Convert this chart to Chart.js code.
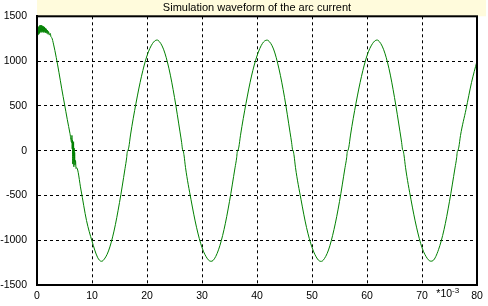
<!DOCTYPE html>
<html>
<head>
<meta charset="utf-8">
<script src="https://cdn.jsdelivr.net/npm/chart.js@4.4.0/dist/chart.umd.min.js"></script>
<style>
  html, body { margin: 0; padding: 0; background: #fff; }
  canvas { display: block; }
</style>
</head>
<body>
<canvas id="arcChart" width="488" height="306"></canvas>
<script>
// Donnees (temps en ms, courant en A)
const times = [
  0, 0.03, 0.1, 0.17, 0.24, 0.31, 0.38, 0.45, 0.52, 0.59, 0.66, 0.73, 0.8, 0.87, 0.94, 1.01, 1.08, 1.15, 1.22, 1.29,
  1.36, 1.43, 1.5, 1.6, 1.7, 1.8, 1.9, 2.0, 2.1, 2.25, 2.4, 2.55, 2.7,
  3, 3.5, 4, 4.5, 5, 5.5, 6, 6.3, 6.35, 6.4, 6.45, 6.5, 6.55, 6.6, 6.65, 6.7, 6.75, 6.8, 6.85, 6.9, 7.0, 7.1, 7.2,
  8, 9, 10, 11, 11.7, 12, 13, 14, 15, 16, 16.3, 16.4, 16.55, 16.7,
  17, 18, 19, 20, 21, 21.8, 22, 23, 24, 25, 26, 26.3, 26.45, 26.6, 26.75,
  27, 28, 29, 30, 31, 31.6, 32, 33, 34, 35, 36, 36.3, 36.4, 36.55, 36.7,
  37, 38, 39, 40, 41, 41.8, 42, 43, 44, 45, 46, 46.3, 46.45, 46.6, 46.75,
  47, 48, 49, 50, 51, 51.6, 52, 53, 54, 55, 56, 56.3, 56.4, 56.55, 56.7,
  57, 58, 59, 60, 61, 61.8, 62, 63, 64, 65, 66, 66.3, 66.45, 66.6, 66.75,
  67, 68, 69, 70, 71, 71.6, 72, 73, 74, 75, 76, 76.3, 76.4, 76.55, 76.7,
  77, 78, 79, 80
];
const current = [
  650, 1280, 1360, 1290, 1380, 1300, 1390, 1310, 1400, 1320, 1400, 1330, 1400, 1320, 1395, 1330, 1390, 1320, 1385, 1330,
  1380, 1320, 1370, 1315, 1360, 1310, 1345, 1300, 1330, 1290, 1310, 1270, 1260,
  1190, 1040, 870, 690, 520, 350, 190, 90, 170, 20, 120, -150, 60, -60, 100, -180, 30, -120, -20, -160, -110, -200, -190,
  -440, -780, -1010, -1190, -1235, -1228, -1120, -898, -579, -201, -80, -20, 5, 40,
  175, 530, 831, 1060, 1196, 1235, 1232, 1133, 914, 594, 209, 90, 15, -5, -60,
  -188, -547, -855, -1082, -1208, -1235, -1227, -1107, -882, -566, -192, -80, -20, 5, 40,
  172, 528, 833, 1058, 1198, 1234, 1231, 1135, 912, 596, 207, 88, 15, -5, -60,
  -190, -545, -857, -1080, -1210, -1236, -1226, -1109, -880, -568, -190, -80, -20, 5, 40,
  174, 530, 830, 1061, 1195, 1235, 1232, 1132, 915, 593, 210, 90, 15, -5, -60,
  -186, -548, -854, -1083, -1207, -1234, -1228, -1106, -883, -565, -193, -80, -20, 5, 40,
  170, 460, 760, 1000
];
const xTicks = [0, 10, 20, 30, 40, 50, 60, 70, 80];
const yTicks = [-1500, -1000, -500, 0, 500, 1000, 1500];
const chartTitle = 'Simulation waveform of the arc current';
const xUnit = '*10';
const xUnitExp = '-3';

const FONT = '"Liberation Sans", Arial, sans-serif';

// Bandeau du titre, cadre et unite de l'axe x
const decorPlugin = {
    id: 'decor',
    beforeDraw(chart) {
        const ctx = chart.ctx;
        const area = chart.chartArea;
        ctx.save();
        ctx.fillStyle = '#fffbdc';
        ctx.fillRect(area.left, 0, 486 - area.left, area.top);
        ctx.fillStyle = '#000';
        ctx.font = '11px ' + FONT;
        ctx.textAlign = 'center';
        ctx.textBaseline = 'middle';
        ctx.fillText(chartTitle, (area.left + area.right) / 2, area.top / 2);
        ctx.restore();
    },
    afterDraw(chart) {
        const ctx = chart.ctx;
        const area = chart.chartArea;
        const xs = chart.scales.x;
        ctx.save();
        ctx.strokeStyle = '#000';
        ctx.lineWidth = 2;
        ctx.strokeRect(area.left, area.top, area.right - area.left, area.bottom - area.top);
        ctx.fillStyle = '#000';
        ctx.textAlign = 'left';
        ctx.textBaseline = 'middle';
        ctx.font = '10.5px ' + FONT;
        const ux = xs.getPixelForValue(72.6);
        ctx.fillText(xUnit, ux, area.bottom + 9);
        const w = ctx.measureText(xUnit).width;
        ctx.font = '8px ' + FONT;
        ctx.fillText(xUnitExp, ux + w, area.bottom + 6);
        ctx.restore();
    }
};

document.addEventListener('DOMContentLoaded', function() {
    const ctx = document.getElementById('arcChart');
    new Chart(ctx, {
        type: 'line',
        data: {
            datasets: [{
                label: 'Arc current',
                data: times.map((t, i) => ({x: t, y: current[i]})),
                borderColor: '#008000',
                borderWidth: 1,
                pointRadius: 0,
                cubicInterpolationMode: 'monotone',
                fill: false
            }]
        },
        options: {
            responsive: false,
            animation: false,
            layout: { padding: { top: 15, right: 11, left: 0, bottom: 0 } },
            plugins: {
                legend: { display: false },
                title: { display: false },
                tooltip: { enabled: false }
            },
            scales: {
                x: {
                    type: 'linear',
                    min: 0,
                    max: 80,
                    afterFit(scale) { scale.height = 21; },
                    afterBuildTicks(scale) { scale.ticks = xTicks.map(v => ({value: v})); },
                    ticks: {
                        color: '#000',
                        font: { family: FONT, size: 10.5 },
                        padding: 5,
                        maxRotation: 0,
                        autoSkip: false,
                        callback: v => String(v)
                    },
                    grid: { color: '#000', lineWidth: 1, drawTicks: false },
                    border: { color: '#000', width: 2, dash: [3, 3] }
                },
                y: {
                    min: -1500,
                    max: 1500,
                    afterFit(scale) { scale.width = 37; },
                    afterBuildTicks(scale) { scale.ticks = yTicks.map(v => ({value: v})); },
                    ticks: {
                        color: '#000',
                        font: { family: FONT, size: 10.5 },
                        padding: 10,
                        autoSkip: false,
                        callback: v => String(v)
                    },
                    grid: { color: '#000', lineWidth: 1, drawTicks: false },
                    border: { color: '#000', width: 2, dash: [3, 3] }
                }
            }
        },
        plugins: [decorPlugin]
    });
});
</script>
</body>
</html>
